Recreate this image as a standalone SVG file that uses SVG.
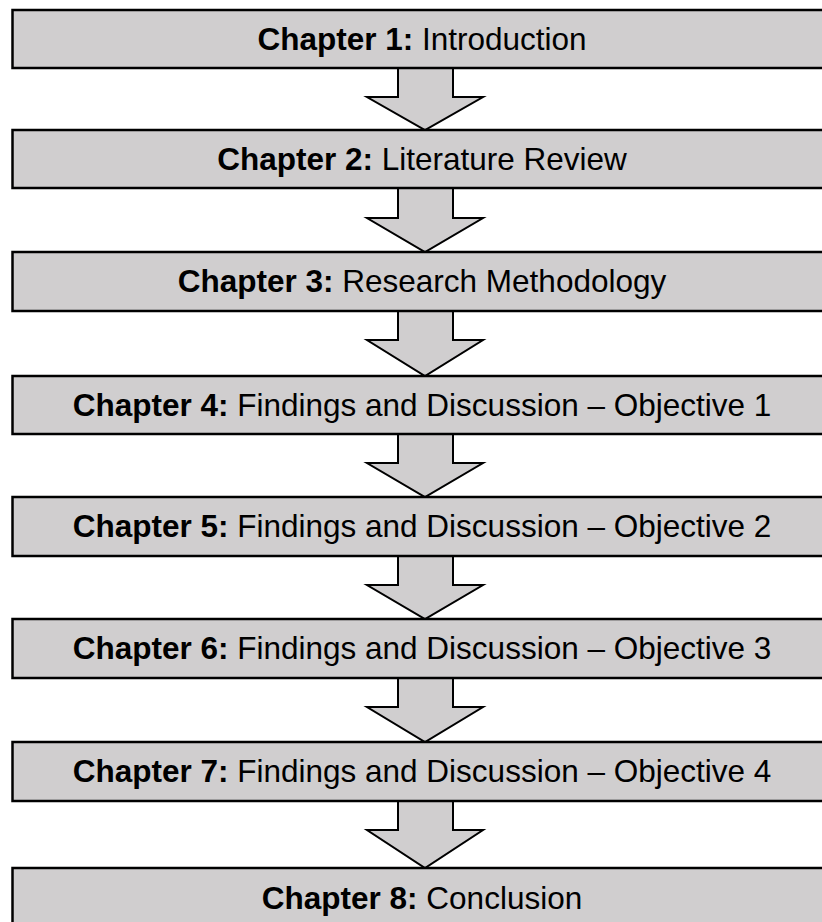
<svg xmlns="http://www.w3.org/2000/svg" width="822" height="922" viewBox="0 0 822 922">
<style>
.box{fill:#d0cecf;stroke:#000;stroke-width:2.5}
.arr{fill:#d0cecf;stroke:#000;stroke-width:2;stroke-linejoin:miter}
text{font-family:"Liberation Sans",Arial,sans-serif;font-size:31.5px;fill:#000;text-anchor:middle}
.b{font-weight:bold}
</style>
<rect width="822" height="922" fill="#fff"/>
<g id="connectors">
<polygon class="arr" points="398,68 453,68 453,97 483,97 425,130 367,97 398,97"/>
<polygon class="arr" points="398,188 453,188 453,218 483,218 425,252 367,218 398,218"/>
<polygon class="arr" points="398,311 453,311 453,340 483,340 425,376 367,340 398,340"/>
<polygon class="arr" points="398,434 453,434 453,463 483,463 425,497 367,463 398,463"/>
<polygon class="arr" points="398,556 453,556 453,585 483,585 425,619 367,585 398,585"/>
<polygon class="arr" points="398,678 453,678 453,707 483,707 425,742 367,707 398,707"/>
<polygon class="arr" points="398,801 453,801 453,830 483,830 425,868 367,830 398,830"/>
</g>
<g id="ch1"><rect class="box" x="12.5" y="10" width="826" height="58"/><text x="422" y="50"><tspan class="b">Chapter 1:</tspan> Introduction</text></g>
<g id="ch2"><rect class="box" x="12.5" y="130" width="826" height="58"/><text x="422" y="170"><tspan class="b">Chapter 2:</tspan> Literature Review</text></g>
<g id="ch3"><rect class="box" x="12.5" y="252" width="826" height="59"/><text x="422" y="292"><tspan class="b">Chapter 3:</tspan> Research Methodology</text></g>
<g id="ch4"><rect class="box" x="12.5" y="376" width="826" height="58"/><text x="422" y="416"><tspan class="b">Chapter 4:</tspan> Findings and Discussion – Objective 1</text></g>
<g id="ch5"><rect class="box" x="12.5" y="497" width="826" height="59"/><text x="422" y="537"><tspan class="b">Chapter 5:</tspan> Findings and Discussion – Objective 2</text></g>
<g id="ch6"><rect class="box" x="12.5" y="619" width="826" height="59"/><text x="422" y="659"><tspan class="b">Chapter 6:</tspan> Findings and Discussion – Objective 3</text></g>
<g id="ch7"><rect class="box" x="12.5" y="742" width="826" height="59"/><text x="422" y="782"><tspan class="b">Chapter 7:</tspan> Findings and Discussion – Objective 4</text></g>
<g id="ch8"><rect class="box" x="12.5" y="868" width="826" height="70"/><text x="422" y="909"><tspan class="b">Chapter 8:</tspan> Conclusion</text></g>
</svg>
